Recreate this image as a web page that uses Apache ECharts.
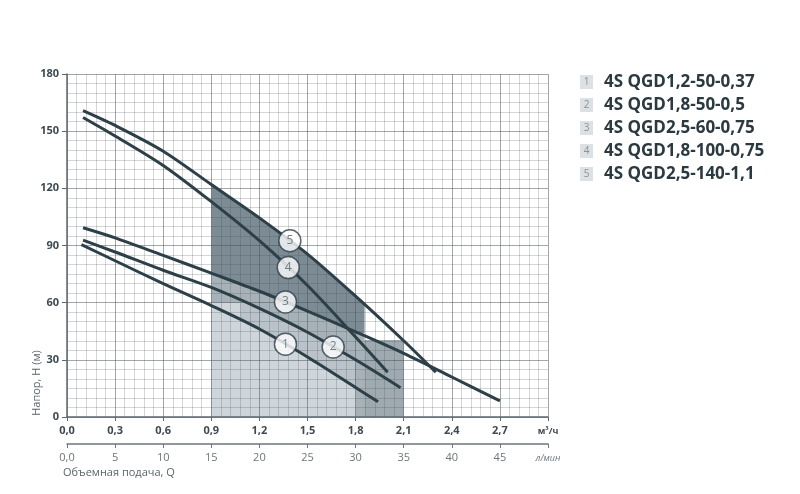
<!DOCTYPE html>
<html>
<head>
<meta charset="utf-8">
<script src="https://cdn.jsdelivr.net/npm/echarts@6/dist/echarts.min.js"></script>
<style>
  html, body { margin: 0; padding: 0; background: #fff; }
  #chart { width: 800px; height: 494px; }
</style>
</head>
<body>
<div id="chart"></div>
<script>
// curves H(Q), Q in m3/h, H in m
var curve1 = [[0.09, 90.5], [0.3, 82], [0.6, 70], [0.9, 58.5], [1.2, 46.2], [1.5, 31.5], [1.8, 15.5], [1.94, 8]];
var curve2 = [[0.1, 92.8], [0.3, 86.6], [0.6, 77], [0.9, 68], [1.2, 57], [1.5, 44.5], [1.8, 30], [2.08, 15.4]];
var curve3 = [[0.1, 99.3], [0.3, 94], [0.6, 84.8], [0.9, 75.5], [1.2, 66], [1.5, 55.6], [1.8, 44.7], [2.1, 33.4], [2.4, 21], [2.7, 8.5]];
var curve4 = [[0.1, 157.2], [0.3, 147.5], [0.6, 132], [0.9, 113], [1.2, 92.5], [1.5, 69], [1.8, 42], [2.0, 23.5]];
var curve5 = [[0.1, 160.8], [0.3, 153], [0.6, 139.5], [0.9, 122], [1.2, 104.5], [1.5, 85.5], [1.8, 63.4], [2.1, 40], [2.3, 23.5]];
var curves = [curve1, curve2, curve3, curve4, curve5];

var models = ['4S QGD1,2-50-0,37', '4S QGD1,8-50-0,5', '4S QGD2,5-60-0,75', '4S QGD1,8-100-0,75', '4S QGD2,5-140-1,1'];

// number badges sit on the curves at these flows
var badgeQ = [1.3625, 1.66, 1.3625, 1.38, 1.39];

// shaded working zones (drawn in this order)
var zoneFrom = [1.8, 0.9, 0.9, 1.08, 0.9, 0.9];
var zoneTo = [2.1, 1.856, 1.856, 1.8, 1.8, 1.08];
var zoneBottom = [0, 0, 44, 0, 0, 0];
var zoneBottomCurve = [null, null, 2, null, null, null];
var zoneTopFlat = [40.4, null, null, null, null, 60];
var zoneTopCurve = [null, 2, 4, 1, 0, null];
var zoneColors = ['#9ea9b0', '#a7b2b8', '#7c8b94', '#bac3c9', '#cfd6db', '#cfd6db'];

// tick labels
var qTicks = [0, 0.3, 0.6, 0.9, 1.2, 1.5, 1.8, 2.1, 2.4, 2.7];
var lTicks = [0, 5, 10, 15, 20, 25, 30, 35, 40, 45];

function interp(c, x) {
  if (x <= c[0][0]) return c[0][1];
  for (var i = 1; i < c.length; i++) {
    if (x <= c[i][0]) {
      var t = (x - c[i - 1][0]) / (c[i][0] - c[i - 1][0]);
      return c[i - 1][1] + t * (c[i][1] - c[i - 1][1]);
    }
  }
  return c[c.length - 1][1];
}

function zoneTop(k, x) {
  return zoneTopCurve[k] === null ? zoneTopFlat[k] : interp(curves[zoneTopCurve[k]], x);
}
function zoneBot(k, x) {
  var b = zoneBottom[k];
  if (zoneBottomCurve[k] !== null) b = Math.max(b, interp(curves[zoneBottomCurve[k]], x));
  return b;
}

var chart = echarts.init(document.getElementById('chart'));
var dark = '#2d3f47';
var font = "'Open Sans', sans-serif";

var series = [{
  type: 'custom',
  xAxisIndex: 0, yAxisIndex: 0,
  z: 1,
  silent: true,
  data: zoneColors.map(function (c, i) { return [i]; }),
  renderItem: function (params, api) {
    var k = params.dataIndex;
    var a = zoneFrom[k], b = zoneTo[k];
    var top = [], bot = [];
    var n = 40;
    for (var i = 0; i <= n; i++) {
      var x = a + (b - a) * i / n;
      top.push(api.coord([x, zoneTop(k, x)]));
      bot.push(api.coord([x, zoneBot(k, x)]));
    }
    return {
      type: 'polygon',
      shape: { points: top.concat(bot.reverse()) },
      style: { fill: zoneColors[k] }
    };
  }
}];

curves.forEach(function (c, i) {
  series.push({
    type: 'line',
    name: models[i],
    data: c,
    smooth: 0.3,
    showSymbol: false,
    z: 5,
    silent: true,
    lineStyle: { color: dark, width: 3 }
  });
});

series.push({
  type: 'scatter',
  z: 6,
  silent: true,
  symbolSize: 22,
  itemStyle: { color: '#fff', borderColor: dark, borderWidth: 1.5 },
  label: { show: true, position: 'inside', color: '#56656d', fontSize: 12, fontFamily: font,
    formatter: function (p) { return String(p.dataIndex + 1); } },
  data: badgeQ.map(function (q, i) { return [q, interp(curves[i], q)]; })
});

// second (l/min) axis holder
series.push({ type: 'line', xAxisIndex: 1, yAxisIndex: 1, data: [], silent: true });

var graphics = [];
models.forEach(function (m, i) {
  var yc = 82 + i * 23;
  graphics.push({ type: 'rect', left: 580, top: yc - 7, shape: { width: 13, height: 14 }, style: { fill: '#dde1e4' } });
  graphics.push({ type: 'text', x: 586.5, y: yc, style: { text: String(i + 1), fill: '#87929a', font: '10px ' + font, textAlign: 'center', textVerticalAlign: 'middle' } });
  graphics.push({ type: 'text', x: 604, y: yc, style: { text: m, fill: '#2b3940', font: 'bold 17px ' + font, textVerticalAlign: 'middle' } });
});
graphics.push({ type: 'text', x: 37, y: 383, rotation: Math.PI / 2, style: { text: 'Напор, H (м)', fill: '#5a656b', font: '11px ' + font, textAlign: 'center', textVerticalAlign: 'middle' } });
graphics.push({ type: 'text', x: 63, y: 473, style: { text: 'Объемная подача, Q', fill: '#5a656b', font: '11px ' + font, textVerticalAlign: 'middle' } });

var majorLine = { show: true, lineStyle: { color: 'rgba(70,80,90,0.5)', width: 1 } };
var minorLine = { show: true, lineStyle: { color: 'rgba(70,80,90,0.24)', width: 1 } };

chart.setOption({
  animation: false,
  backgroundColor: '#fff',
  grid: [
    { left: 67, right: 252, top: 74, bottom: 77 },
    { left: 67, right: 252, top: 444, height: 0 }
  ],
  xAxis: [{
    type: 'value', gridIndex: 0, min: 0, max: 3, interval: 0.3, z: 3,
    axisLine: { show: true, lineStyle: { color: '#5d686f', width: 1.5 } },
    axisTick: { show: true, length: 4, lineStyle: { color: '#5d686f' } },
    splitLine: majorLine,
    minorTick: { show: false, splitNumber: 5 },
    minorSplitLine: minorLine,
    axisLabel: {
      margin: 8, color: '#3d4a52', fontWeight: 'bold', fontSize: 11, fontFamily: font,
      formatter: function (v) {
        var r = Math.round(v * 10) / 10;
        if (r === 3) return '{u|м³/ч}';
        return qTicks.indexOf(r) >= 0 ? r.toFixed(1).replace('.', ',') : '';
      },
      rich: { u: { fontSize: 9, fontWeight: 'bold', color: '#3d4a52', fontFamily: font, padding: [2, 0, 0, 0] } }
    }
  }, {
    type: 'value', gridIndex: 1, min: 0, max: 50, interval: 5, position: 'bottom',
    axisLine: { show: true, onZero: false, lineStyle: { color: '#6d777d', width: 1.5 } },
    axisTick: { show: true, length: 4, lineStyle: { color: '#6d777d' } },
    splitLine: { show: false },
    axisLabel: {
      margin: 8, color: '#6b767c', fontSize: 11, fontFamily: font,
      formatter: function (v) {
        if (v === 50) return '{u|л/мин}';
        if (lTicks.indexOf(v) < 0) return '';
        return v === 0 ? '0,0' : String(v);
      },
      rich: { u: { fontSize: 9, fontStyle: 'italic', color: '#6b767c', fontFamily: font, padding: [2, 0, 0, 0] } }
    }
  }],
  yAxis: [{
    type: 'value', gridIndex: 0, min: 0, max: 180, interval: 30, z: 3,
    axisLine: { show: true, lineStyle: { color: '#5d686f', width: 1.5 } },
    axisTick: { show: true, length: 5, lineStyle: { color: '#5d686f' } },
    splitLine: majorLine,
    minorTick: { show: false, splitNumber: 6 },
    minorSplitLine: minorLine,
    axisLabel: { margin: 8, color: '#3d4a52', fontWeight: 'bold', fontSize: 11, fontFamily: font }
  }, {
    type: 'value', gridIndex: 1, show: false, min: 0, max: 1
  }],
  series: series,
  graphic: graphics
});
</script>
</body>
</html>
